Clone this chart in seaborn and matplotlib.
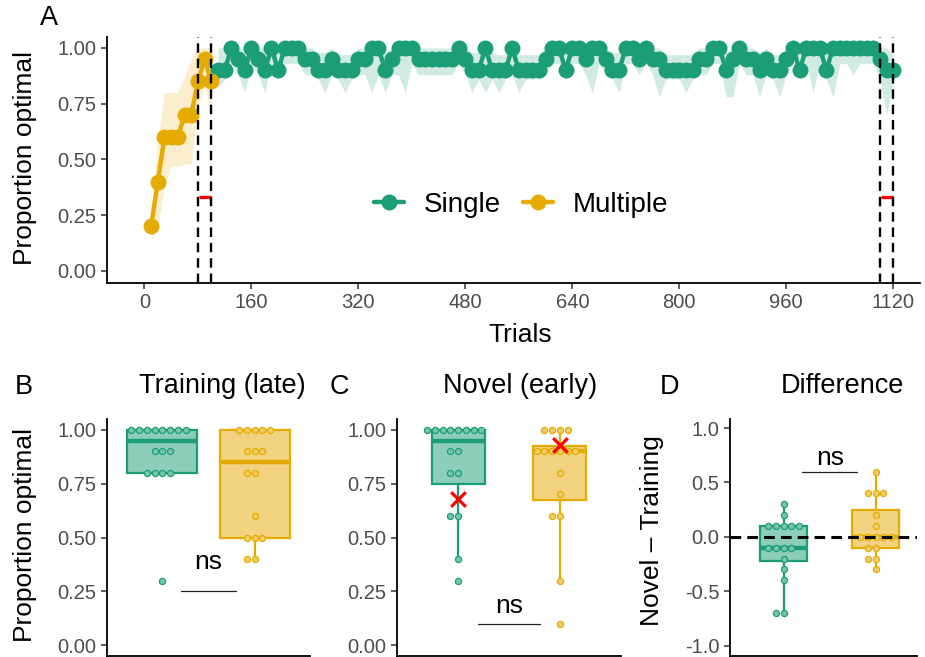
import numpy as np
import pandas as pd
import matplotlib
matplotlib.use("Agg")
import matplotlib.pyplot as plt
import seaborn as sns
from matplotlib.lines import Line2D
from matplotlib.colors import to_rgba

# colours (Dark2)
single_col = "#1B9E77"
multi_col = "#E6AB02"
groups = ["Single", "Multiple"]
pal = {"Single": single_col, "Multiple": multi_col}

# ---- panel A: learning curves (block means + ribbon) ----
multi_trials = np.arange(10, 101, 10)
multi_mean = [0.20, 0.40, 0.60, 0.60, 0.60, 0.70, 0.70, 0.85, 0.95, 0.85]
multi_lo = [0.13, 0.20, 0.38, 0.47, 0.47, 0.48, 0.48, 0.74, 0.82, 0.72]
multi_hi = [0.27, 0.58, 0.80, 0.80, 0.80, 0.87, 0.95, 1.00, 1.00, 1.00]

single_trials = np.arange(110, 1121, 10)
single_mean = [
    0.90, 0.90, 1.00, 0.95, 0.90, 1.00, 0.95, 0.90, 1.00, 0.90,
    1.00, 1.00, 1.00, 0.95, 0.95, 0.90, 0.90, 0.95, 0.90, 0.90,
    0.90, 0.95, 0.95, 1.00, 1.00, 0.90, 0.95, 1.00, 1.00, 1.00,
    0.95, 0.95, 0.95, 0.95, 0.95, 0.95, 1.00, 0.95, 0.90, 0.90,
    1.00, 0.90, 0.90, 0.90, 1.00, 0.90, 0.90, 0.90, 0.90, 0.95,
    1.00, 1.00, 0.90, 1.00, 1.00, 0.95, 1.00, 1.00, 0.95, 0.90,
    0.90, 1.00, 1.00, 0.95, 1.00, 0.95, 0.95, 0.90, 0.90, 0.90,
    0.90, 0.90, 0.95, 0.95, 1.00, 1.00, 0.90, 0.95, 1.00, 0.95,
    0.95, 0.90, 0.95, 0.90, 0.90, 0.95, 1.00, 0.90, 1.00, 1.00,
    1.00, 0.90, 1.00, 1.00, 1.00, 1.00, 1.00, 1.00, 1.00, 0.95,
    0.90, 0.90]
single_lo = [
    0.82, 0.86, 0.93, 0.88, 0.80, 0.93, 0.88, 0.80, 0.93, 0.86,
    0.93, 0.93, 0.93, 0.88, 0.88, 0.86, 0.80, 0.88, 0.86, 0.80,
    0.86, 0.88, 0.88, 0.80, 0.88, 0.80, 0.88, 0.88, 0.80, 0.93,
    0.88, 0.88, 0.88, 0.88, 0.88, 0.88, 0.93, 0.88, 0.80, 0.86,
    0.80, 0.86, 0.80, 0.86, 0.88, 0.80, 0.86, 0.86, 0.86, 0.88,
    0.93, 0.93, 0.86, 0.93, 0.93, 0.88, 0.80, 0.93, 0.88, 0.86,
    0.80, 0.93, 0.93, 0.88, 0.93, 0.88, 0.78, 0.86, 0.86, 0.86,
    0.80, 0.86, 0.88, 0.88, 0.93, 0.93, 0.78, 0.78, 0.93, 0.88,
    0.88, 0.78, 0.88, 0.86, 0.78, 0.88, 0.93, 0.86, 0.93, 0.80,
    0.93, 0.86, 0.78, 0.93, 0.93, 0.88, 0.93, 0.93, 0.93, 0.86,
    0.70, 0.84]
single_hi = [
    1.00, 1.00, 1.00, 1.00, 1.00, 1.00, 1.00, 1.00, 1.00, 1.00,
    1.00, 1.00, 1.00, 1.00, 1.00, 0.98, 0.98, 1.00, 0.97, 0.97,
    0.97, 1.00, 1.00, 1.00, 1.00, 0.98, 1.00, 1.00, 1.00, 1.00,
    1.00, 1.00, 1.00, 1.00, 1.00, 1.00, 1.00, 1.00, 0.98, 0.98,
    1.00, 0.98, 0.97, 0.97, 1.00, 0.97, 0.97, 0.97, 0.97, 1.00,
    1.00, 1.00, 0.98, 1.00, 1.00, 1.00, 1.00, 1.00, 1.00, 0.98,
    0.98, 1.00, 1.00, 1.00, 1.00, 1.00, 1.00, 0.97, 0.97, 0.97,
    0.97, 0.97, 1.00, 1.00, 1.00, 1.00, 0.98, 1.00, 1.00, 1.00,
    1.00, 0.98, 1.00, 0.97, 0.97, 1.00, 1.00, 0.98, 1.00, 1.00,
    1.00, 0.98, 1.00, 1.00, 0.98, 0.98, 0.98, 0.98, 0.98, 1.00,
    1.00, 0.97]

test_windows = [(80, 100), (1100, 1120)]
chance = 1 / 3
trial_ticks = [0, 160, 320, 480, 640, 800, 960, 1120]

# ---- panels B-D: per participant proportions ----
train_single = [1.0, 1.0, 1.0, 1.0, 1.0, 1.0, 1.0, 1.0, 0.9, 0.9, 0.9, 0.8, 0.8, 0.8, 0.8, 0.3]
train_multi = [1.0, 1.0, 1.0, 1.0, 1.0, 0.9, 0.9, 0.9, 0.8, 0.8, 0.6, 0.5, 0.5, 0.5, 0.4, 0.4]
novel_single = [1.0, 1.0, 1.0, 1.0, 1.0, 1.0, 1.0, 1.0, 0.9, 0.9, 0.8, 0.8, 0.6, 0.6, 0.4, 0.3]
novel_multi = [1.0, 1.0, 1.0, 1.0, 0.9, 0.9, 0.9, 0.9, 0.9, 0.9, 0.8, 0.7, 0.6, 0.6, 0.3, 0.1]
diff_single = [0.3, 0.2, 0.1, 0.1, 0.1, 0.1, 0.1, -0.1, -0.1, -0.1, -0.1, -0.2, -0.3, -0.4, -0.7, -0.7]
diff_multi = [0.6, 0.4, 0.4, 0.4, 0.2, 0.1, 0.0, 0.0, 0.0, 0.0, 0.0, -0.1, -0.1, -0.2, -0.2, -0.3]
novel_marks = [0.68, 0.93]   # red crosses in panel C

sns.set_style("ticks")
plt.rcParams["font.family"] = ["Liberation Sans", "DejaVu Sans"]
plt.rcParams["axes.unicode_minus"] = False
plt.rcParams["text.color"] = "black"

W, H = 925, 657
fig = plt.figure(figsize=(W / 100, H / 100), dpi=100)


def add_ax(l, t, r, b):
    return fig.add_axes([l / W, 1 - b / H, (r - l) / W, (b - t) / H])


def style(ax):
    for s in ["top", "right"]:
        ax.spines[s].set_visible(False)
    for s in ["left", "bottom"]:
        ax.spines[s].set_color("black")
        ax.spines[s].set_linewidth(1.3)
    ax.tick_params(length=4, width=1.1, color="#333333", labelcolor="#4D4D4D",
                   labelsize=14.5)
    ax.set_xlabel("")
    ax.set_ylabel("")


axA = add_ax(107, 37, 920, 283)
axB = add_ax(107, 419, 310, 656)
axC = add_ax(397, 419, 621, 656)
axD = add_ax(730, 419, 917, 656)

# ---- A ----
dfA = pd.concat([
    pd.DataFrame({"trial": single_trials, "prop": single_mean, "group": "Single"}),
    pd.DataFrame({"trial": multi_trials, "prop": multi_mean, "group": "Multiple"}),
])
axA.fill_between(single_trials, single_lo, single_hi, color=single_col, alpha=0.2, lw=0)
axA.fill_between(multi_trials, multi_lo, multi_hi, color=multi_col, alpha=0.2, lw=0)
sns.lineplot(data=dfA, x="trial", y="prop", hue="group", hue_order=groups, palette=pal,
             marker="o", markersize=11.5, markeredgewidth=0, linewidth=3.2,
             legend=False, ax=axA)
for a, b in test_windows:
    axA.plot([a + 1, b - 1], [chance, chance], color="red", lw=2.4, solid_capstyle="butt")
    for x in (a, b):
        axA.axvline(x, color="black", lw=1.7, ls=(0, (4, 2.5)))
axA.set_xlim(-56, 1160)
axA.set_ylim(-0.054, 1.049)
axA.set_xticks(trial_ticks)
axA.set_yticks([0, 0.25, 0.5, 0.75, 1.0])
axA.set_yticklabels(["0.00", "0.25", "0.50", "0.75", "1.00"])
style(axA)
handles = [Line2D([0], [0], color=pal[g], lw=3.2, marker="o", markersize=11.5,
                  markeredgewidth=0) for g in groups]
axA.legend(handles, groups, loc="center", bbox_to_anchor=(521 / W, 1 - 205 / H),
           bbox_transform=fig.transFigure, ncol=2, frameon=False, fontsize=20,
           handlelength=1.1, handletextpad=0.7, columnspacing=0.8)


# ---- B, C, D ----
def box_panel(ax, single_vals, multi_vals, width):
    for g, vals in zip(groups, [single_vals, multi_vals]):
        c = pal[g]
        n0 = len(ax.patches)
        sns.boxplot(x=[g] * len(vals), y=vals, order=groups, color=c, linecolor=c,
                    saturation=1, width=width, linewidth=1.6, showcaps=False,
                    showfliers=False, medianprops={"linewidth": 3.2}, ax=ax)
        for p in ax.patches[n0:]:
            p.set_facecolor(to_rgba(c, 0.5))
            p.set_edgecolor(c)
        light = tuple(0.6 * np.array(to_rgba(c)[:3]) + 0.4)
        sns.swarmplot(x=[g] * len(vals), y=vals, order=groups, color=light,
                      edgecolor=c, linewidth=0.9, size=4.4, ax=ax)
    style(ax)
    ax.set_xticks([])


box_panel(axB, train_single, train_multi, 0.76)
box_panel(axC, novel_single, novel_multi, 0.52)
box_panel(axD, diff_single, diff_multi, 0.51)

sns.scatterplot(x=[groups.index(g) for g in groups], y=novel_marks, marker="x",
                color="red", s=110, linewidth=2.3, ax=axC, zorder=6)

for ax in (axB, axC):
    ax.set_xlim(-0.6, 1.6)
    ax.set_ylim(-0.05, 1.05)
    ax.set_yticks([0, 0.25, 0.5, 0.75, 1.0])
    ax.set_yticklabels(["0.00", "0.25", "0.50", "0.75", "1.00"])
    ax.set_xlabel("")
    ax.set_ylabel("")
axD.set_xlim(-0.584, 1.449)
axD.set_ylim(-1.096, 1.083)
axD.set_yticks([-1, -0.5, 0, 0.5, 1])
axD.set_yticklabels(["-1.0", "-0.5", "0.0", "0.5", "1.0"])
axD.axhline(0, color="black", lw=2.2, ls=(0, (3.5, 2)), zorder=4)

# significance brackets
for ax, ly, ty in [(axB, 0.25, 0.352), (axC, 0.10, 0.15), (axD, 0.60, 0.66)]:
    ax.plot([0.2, 0.8], [ly, ly], color="#222222", lw=0.9)
    ax.text(0.5, ty, "ns", ha="center", va="baseline", fontsize=19, color="black")

# texts
fig.text(49 / W, 1 - 18 / H, "A", ha="center", va="center", fontsize=19.5)
fig.text(24 / W, 1 - 387 / H, "B", ha="center", va="center", fontsize=19.5)
fig.text(339 / W, 1 - 387 / H, "C", ha="center", va="center", fontsize=19.5)
fig.text(669 / W, 1 - 387 / H, "D", ha="center", va="center", fontsize=19.5)
fig.text(222 / W, 1 - 386 / H, "Training (late)", ha="center", va="center", fontsize=19.5)
fig.text(520 / W, 1 - 386 / H, "Novel (early)", ha="center", va="center", fontsize=19.5)
fig.text(842 / W, 1 - 386 / H, "Difference", ha="center", va="center", fontsize=19.5)
fig.text(520 / W, 1 - 335 / H, "Trials", ha="center", va="center", fontsize=19)
fig.text(25 / W, 1 - 158 / H, "Proportion optimal", ha="center", va="center",
         rotation=90, fontsize=19)
fig.text(25 / W, 1 - 535 / H, "Proportion optimal", ha="center", va="center",
         rotation=90, fontsize=19)
fig.text(652 / W, 1 - 531 / H, "Novel \u2013 Training", ha="center", va="center",
         rotation=90, fontsize=19)

fig.savefig("out.png", dpi=100)
